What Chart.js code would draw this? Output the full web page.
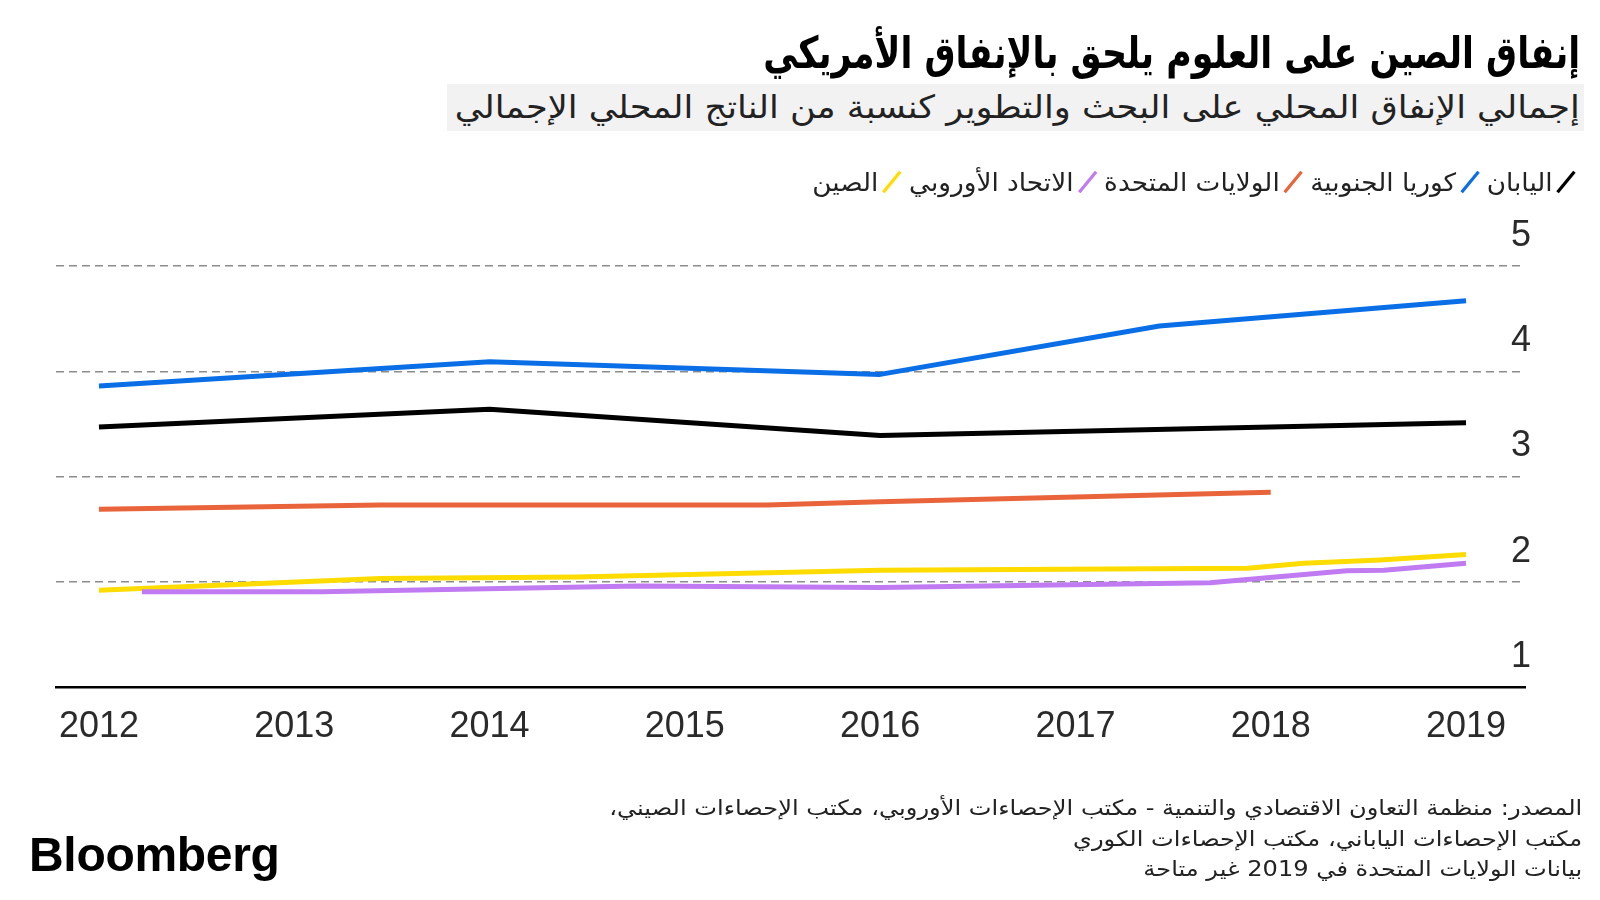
<!DOCTYPE html>
<html lang="ar">
<head>
<meta charset="utf-8">
<script src="https://cdn.jsdelivr.net/npm/chart.js@4.4.1/dist/chart.umd.min.js"></script>
<style>
html,body{margin:0;padding:0;background:#fff;}
body{width:1600px;height:900px;position:relative;overflow:hidden;font-family:"DejaVu Sans",sans-serif;color:#111;}
#chart{position:absolute;left:0;top:0;}
.t{position:absolute;white-space:nowrap;direction:rtl;transform-origin:right center;}
#title{right:20px;top:26px;font-size:44px;font-weight:bold;line-height:54px;color:#000;}
#subbox{position:absolute;left:447px;top:84px;width:1137px;height:47px;background:#f2f2f2;}
#subtitle{right:20px;top:84px;font-size:32px;line-height:47px;color:#222;}
#legend{position:absolute;right:23px;top:166px;height:32px;display:flex;direction:rtl;align-items:center;font-size:25px;color:#222;white-space:nowrap;transform-origin:right center;}
.item{display:flex;align-items:center;margin-left:6px;}
.mk{position:relative;display:inline-block;width:20px;height:26px;margin-left:3px;}
.mk::after{content:"";position:absolute;left:8.5px;top:0;width:3px;height:26px;background:currentColor;transform:rotate(38deg);}
#source{right:18px;top:793px;font-size:21px;line-height:30.5px;color:#222;text-align:right;}
#logo{position:absolute;left:29px;top:829px;font-family:"Liberation Sans",Arial,sans-serif;font-weight:bold;font-size:48px;line-height:52px;letter-spacing:-0.3px;color:#000;}
</style>
</head>
<body>
<canvas id="chart" width="1600" height="900"></canvas>
<div id="title" class="t">إنفاق الصين على العلوم يلحق بالإنفاق الأمريكي</div>
<div id="subbox"></div>
<div id="subtitle" class="t">إجمالي الإنفاق المحلي على البحث والتطوير كنسبة من الناتج المحلي الإجمالي</div>
<div id="legend"></div>
<div id="source" class="t">المصدر: منظمة التعاون الاقتصادي والتنمية - مكتب الإحصاءات الأوروبي، مكتب الإحصاءات الصيني،<br>مكتب الإحصاءات الياباني، مكتب الإحصاءات الكوري<br>بيانات الولايات المتحدة في 2019 غير متاحة</div>
<div id="logo">Bloomberg</div>
<script>
// ---- data ----
const years = [2012, 2013, 2014, 2015, 2016, 2017, 2018, 2019];
const yTicks = [1, 2, 3, 4, 5];
const seriesNames = ["اليابان", "كوريا الجنوبية", "الولايات المتحدة", "الاتحاد الأوروبي", "الصين"];
const seriesColors = ["#000000", "#0a6ee6", "#e9643a", "#c07af2", "#ffdc00"];

const japanX = [2012, 2014, 2016, 2019];
const japanY = [3.47, 3.64, 3.39, 3.51];

const koreaX = [2012, 2014, 2016, 2017.43, 2019];
const koreaY = [3.86, 4.09, 3.97, 4.43, 4.67];

const usX = [2012, 2013.44, 2015.42, 2016, 2018];
const usY = [2.69, 2.73, 2.73, 2.76, 2.85];

const euX = [2012.22, 2013.14, 2014.76, 2016, 2017.69, 2018.39, 2018.58, 2019];
const euY = [1.905, 1.905, 1.96, 1.945, 1.99, 2.105, 2.11, 2.176];

const chinaX = [2012, 2013.44, 2014.45, 2016, 2017.88, 2018.17, 2018.56, 2019];
const chinaY = [1.92, 2.03, 2.045, 2.11, 2.128, 2.176, 2.207, 2.26];

function pts(xs, ys) { return xs.map((x, i) => ({ x: x, y: ys[i] })); }
const seriesData = [pts(japanX, japanY), pts(koreaX, koreaY), pts(usX, usY), pts(euX, euY), pts(chinaX, chinaY)];

// ---- legend ----
const legendEl = document.getElementById('legend');
seriesNames.forEach((n, i) => {
  const it = document.createElement('span'); it.className = 'item';
  const mk = document.createElement('span'); mk.className = 'mk'; mk.style.color = seriesColors[i];
  const tx = document.createElement('span'); tx.textContent = n;
  it.appendChild(mk); it.appendChild(tx); legendEl.appendChild(it);
});

// ---- fit text widths to reference ----
function fitX(id, target) {
  const el = document.getElementById(id);
  const w = el.getBoundingClientRect().width;
  let s = target / w; s = Math.max(0.7, Math.min(1.3, s));
  el.style.transform = 'scaleX(' + s + ')';
}
fitX('title', 817);
fitX('subtitle', 1125);
fitX('legend', 771);
fitX('source', 973);

// ---- chart ----
const tickFont = { family: "'Liberation Sans', Arial, sans-serif", size: 36 };
new Chart(document.getElementById('chart').getContext('2d'), {
  type: 'line',
  data: {
    datasets: seriesData.map((d, i) => ({
      label: seriesNames[i], data: d, borderColor: seriesColors[i], backgroundColor: seriesColors[i],
      borderWidth: 5, pointRadius: 0, tension: 0, fill: false, borderJoinStyle: 'round'
    }))
  },
  options: {
    responsive: false, animation: false, devicePixelRatio: 1,
    layout: { padding: { left: 56, right: 75, top: 266, bottom: 0 } },
    plugins: { legend: { display: false }, tooltip: { enabled: false }, title: { display: false } },
    scales: {
      x: {
        type: 'linear', min: 2011.78, max: 2019.302,
        afterBuildTicks: s => { s.ticks = years.map(v => ({ value: v })); },
        afterFit: s => { s.height = 213; },
        grid: { display: false, drawTicks: false },
        border: { display: true, color: '#000', width: 2.5 },
        ticks: { padding: 18, color: '#2a2a2a', font: tickFont, maxRotation: 0, autoSkip: false, callback: v => String(v) }
      },
      y: {
        type: 'linear', position: 'right', min: 1, max: 5,
        afterBuildTicks: s => { s.ticks = yTicks.map(v => ({ value: v })); },
        afterFit: s => { s.width = 0; },
        grid: { drawTicks: false, lineWidth: 1.5, color: c => (c.tick && c.tick.value === 1) ? 'rgba(0,0,0,0)' : '#8c8c8c' },
        border: { display: false, dash: [8, 5] },
        ticks: { mirror: true, padding: 6, labelOffset: -30, color: '#2a2a2a', font: tickFont, callback: v => String(v) }
      }
    }
  }
});
</script>
</body>
</html>
